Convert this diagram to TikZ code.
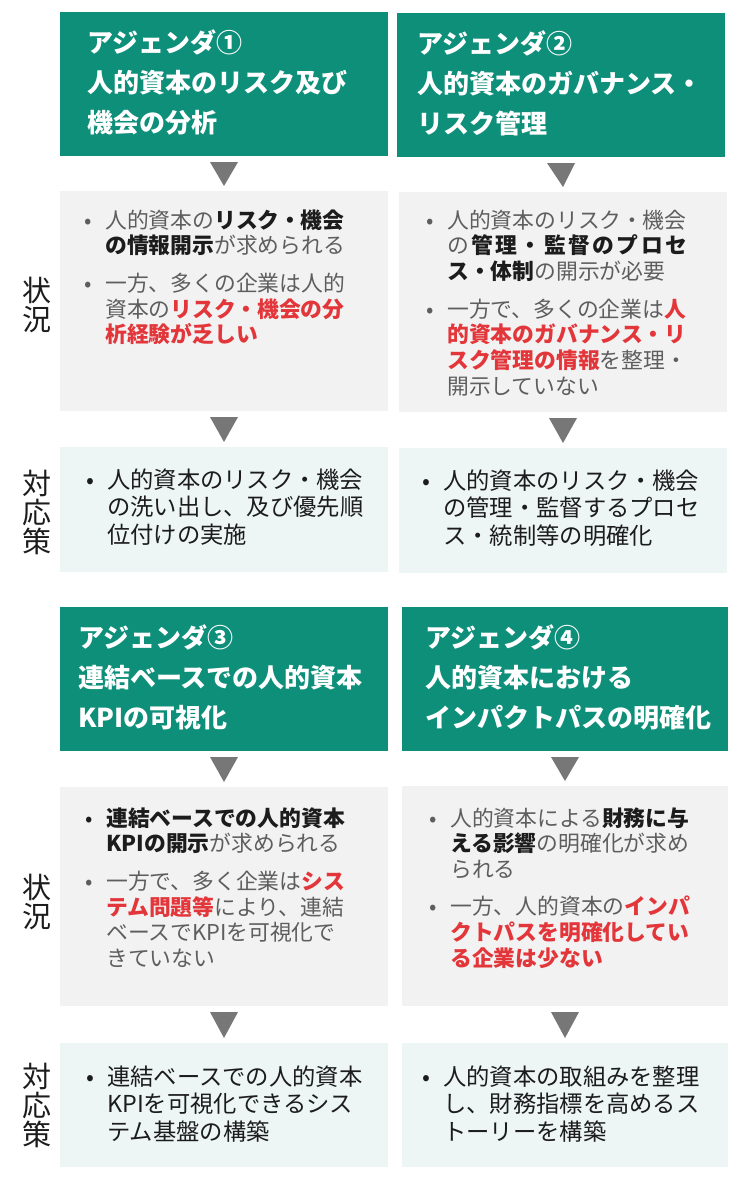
\documentclass[tikz,border=0pt]{standalone}
\usepackage{fontspec}
\setmainfont{Noto Sans CJK JP}
\usetikzlibrary{calc}

\definecolor{agendagreen}{HTML}{0E8F7A}
\definecolor{statusfill}{HTML}{F2F2F2}
\definecolor{responsefill}{HTML}{EDF6F5}
\definecolor{flowgrey}{HTML}{777777}
\definecolor{bodygrey}{HTML}{5E5E5E}
\definecolor{ink}{HTML}{1C1C1C}
\definecolor{alertred}{HTML}{E3363A}

\newcommand{\bulletpoint}[2][.]{\noindent\makebox[34pt][c]{\textcolor{#1}{•}}\parbox[t]{266pt}{\leavevmode#2}}
\newcommand{\nextpoint}{\par\vspace{16pt}}
\newcommand{\boldterm}[1]{{\bfseries\color{ink}#1}}
\newcommand{\redterm}[1]{{\bfseries\color{alertred}#1}}

\begin{document}
\begin{tikzpicture}[x=1pt,y=-1pt,
  agenda/.style={fill=agendagreen, anchor=north west, inner sep=0pt, outer sep=0pt,
    minimum width=328pt, minimum height=144pt},
  status/.style={fill=statusfill, anchor=north west, inner sep=0pt, outer sep=0pt,
    minimum width=328pt, minimum height=220pt},
  response/.style={fill=responsefill, anchor=north west, inner sep=0pt, outer sep=0pt,
    minimum width=328pt, minimum height=125pt},
  titletext/.style={anchor=base west, inner sep=0pt, text width=310pt, text=white,
    font=\fontsize{26pt}{40pt}\selectfont\bfseries},
  bodytext/.style={anchor=base west, inner sep=0pt, text width=300pt, text=bodygrey,
    font=\fontsize{21.8pt}{25.8pt}\selectfont},
  resptext/.style={anchor=base west, inner sep=0pt, text width=300pt, text=ink,
    font=\fontsize{23.3pt}{27.5pt}\selectfont},
  rowlabel/.style={align=center, inner sep=0pt, text=ink,
    font=\fontsize{29pt}{29pt}\selectfont},
  flow/.style={fill=flowgrey}]

  \fill[white] (0,0) rectangle (740,1179);
  \useasboundingbox (0,0) rectangle (740,1179);

  % upper half
  \node[agenda] (a1) at (60,12) {};
  \node[agenda] (a2) at (397,13) {};
  \node[status] (s1) at (60,191) {};
  \node[status] (s2) at (399,192) {};
  \node[response] (r1) at (60,447) {};
  \node[response] (r2) at (399,448) {};

  % lower half
  \node[agenda] (a3) at (60,607) {};
  \node[agenda, minimum width=326pt] (a4) at (402,607) {};
  \node[status, minimum height=219pt] (s3) at (60,787) {};
  \node[status, minimum width=326pt] (s4) at (402,786) {};
  \node[response, minimum height=124pt] (r3) at (60,1043) {};
  \node[response, minimum width=326pt, minimum height=124pt] (r4) at (402,1043) {};

  \foreach \u/\v in {a1/s1,a2/s2,s1/r1,s2/r2,a3/s3,a4/s4,s3/r3,s4/r4}
    \fill[flow] ($(\u.south)+(-14,6)$) -- ++(28,0) -- ($(\v.north)+(0,-5)$) -- cycle;

  \node[rowlabel] (l1) at (37,305) {状\\況};
  \node[rowlabel] (l2) at (37,512) {対\\応\\策};
  \node[rowlabel] (l3) at (37,902) {状\\況};
  \node[rowlabel] (l4) at (37,1105) {対\\応\\策};

  \node[titletext] (a1t) at (87,52) {アジェンダ①\\人的資本のリスク及び\\機会の分析};
  \node[titletext] (a2t) at (417,53) {アジェンダ②\\人的資本のガバナンス・\\リスク管理};
  \node[titletext] (a3t) at (78,647) {アジェンダ③\\連結ベースでの人的資本\\KPIの可視化};
  \node[titletext] (a4t) at (425,647) {アジェンダ④\\人的資本における\\インパクトパスの明確化};

  \node[bodytext] (s1t) at (71,228) {%
    \bulletpoint{人的資本の\boldterm{リスク・機会}\\\boldterm{の情報開示}が求められる}\nextpoint
    \bulletpoint{一方、多くの企業は人的\\資本の\redterm{リスク・機会の分\\析経験が乏しい}}};
  \node[bodytext] (s2t) at (413,228) {%
    \bulletpoint{人的資本のリスク・機会\\\makebox[240pt][s]{の\hfil\boldterm{管\hfil 理\hfil ・\hfil 監\hfil 督\hfil の\hfil プ\hfil ロ\hfil セ}}\\\boldterm{ス・体制}の開示が必要}\nextpoint
    \bulletpoint{一方で、多くの企業は\redterm{人\\的資本のガバナンス・リ\\スク管理の情報}を整理・\\開示していない}};
  \node[bodytext] (s3t) at (72,826) {%
    \bulletpoint[ink]{\boldterm{連結ベースでの人的資本\\KPIの開示}が求められる}\nextpoint
    \bulletpoint{一方で、多く企業は\redterm{シス\\テム問題等}により、連結\\ベースでKPIを可視化で\\きていない}};
  \node[bodytext] (s4t) at (416,826) {%
    \bulletpoint{人的資本による\boldterm{財務に与\\える影響}の明確化が求め\\られる}\nextpoint
    \bulletpoint{一方、人的資本の\redterm{インパ\\クトパスを明確化してい\\る企業は少ない}}};

  \node[resptext] (r1t) at (73,488) {\bulletpoint{人的資本のリスク・機会\\の洗い出し、及び優先順\\位付けの実施}};
  \node[resptext] (r2t) at (409,489) {\bulletpoint{人的資本のリスク・機会\\の管理・監督するプロセ\\ス・統制等の明確化}};
  \node[resptext] (r3t) at (73,1085) {\bulletpoint{連結ベースでの人的資本\\KPIを可視化できるシス\\テム基盤の構築}};
  \node[resptext] (r4t) at (409,1085) {\bulletpoint{人的資本の取組みを整理\\し、財務指標を高めるス\\トーリーを構築}};
\end{tikzpicture}
\end{document}
